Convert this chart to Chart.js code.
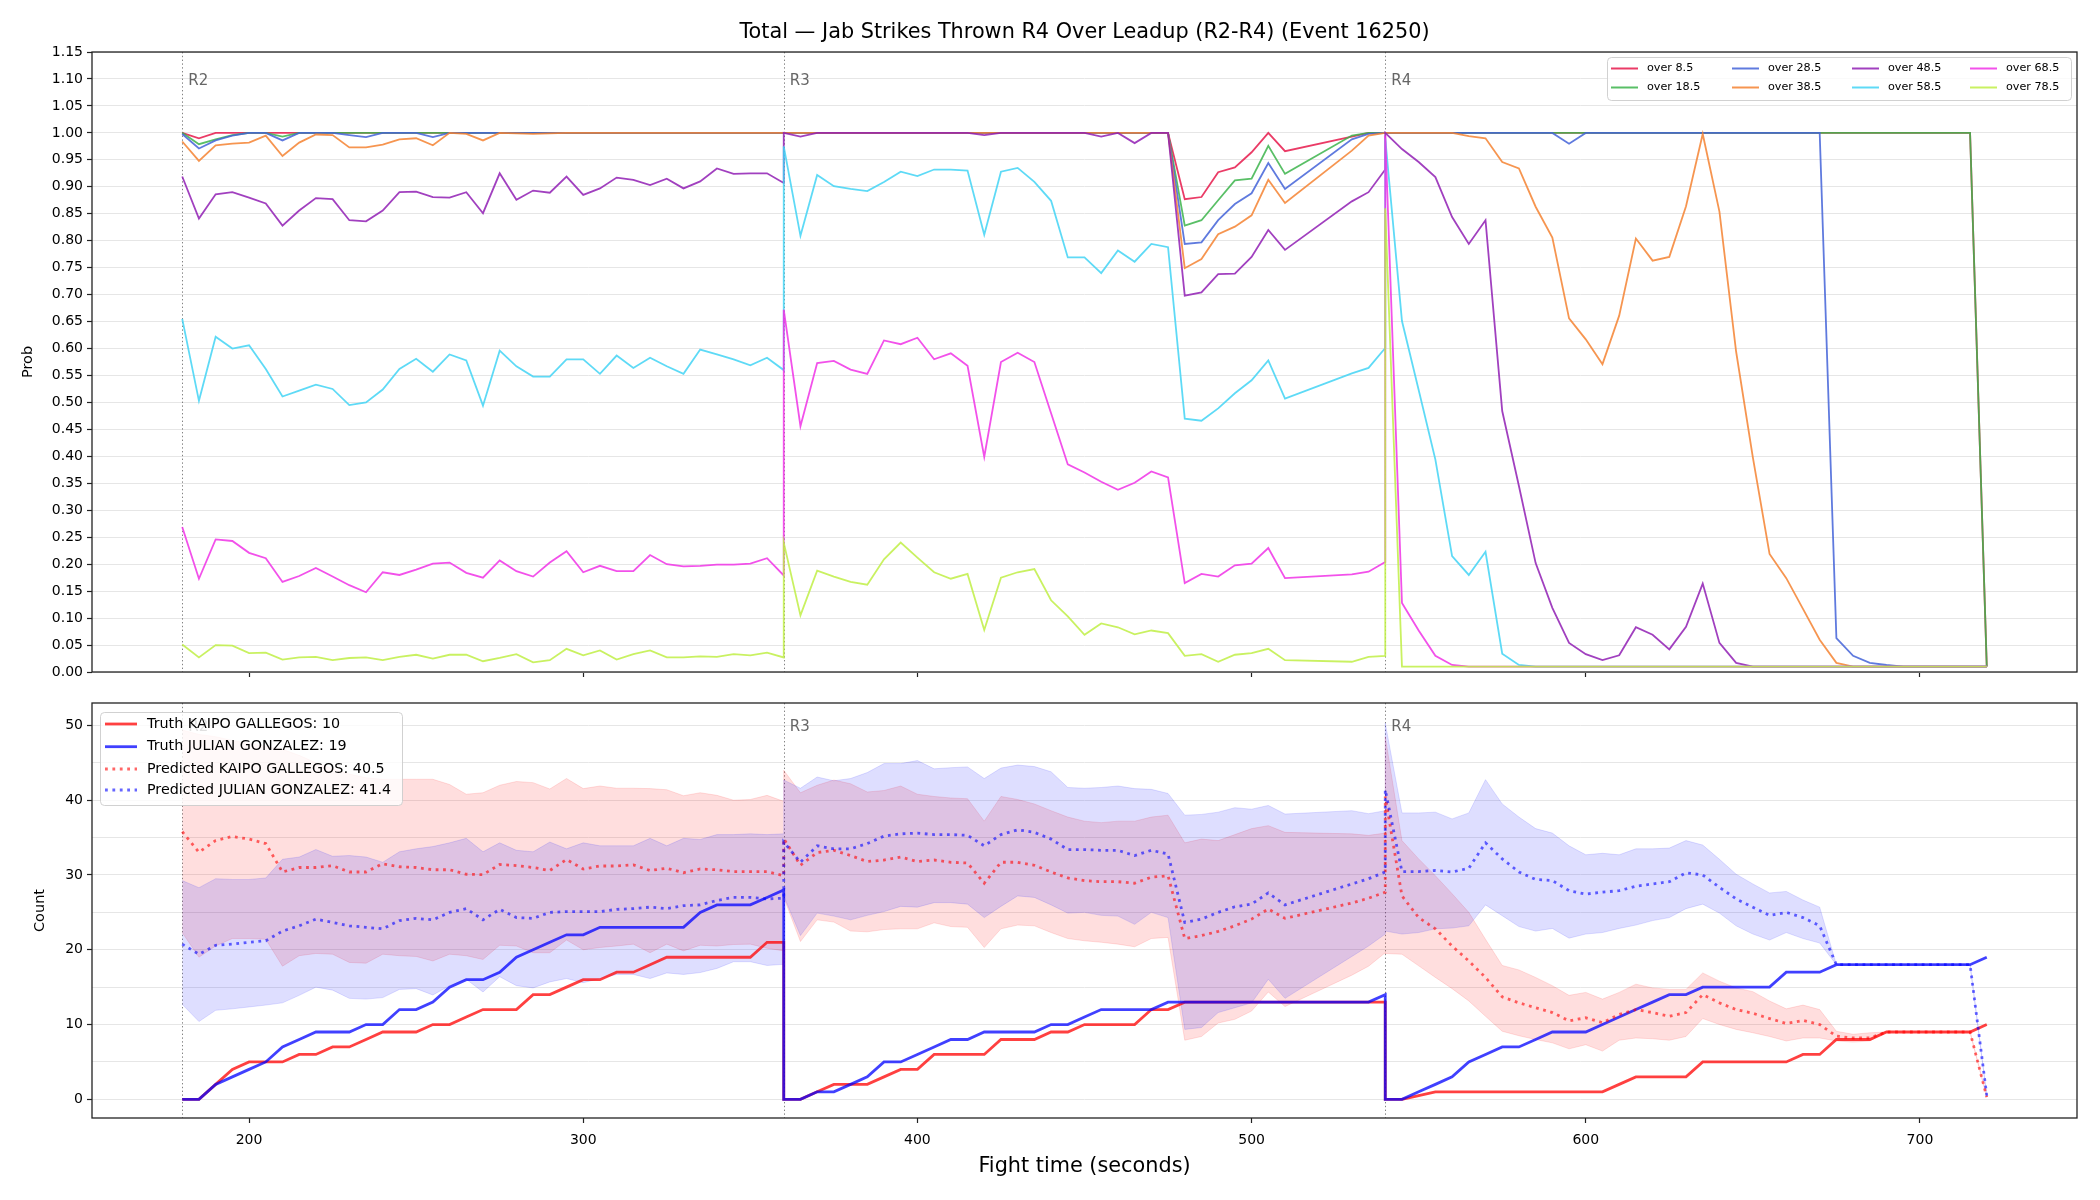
<!DOCTYPE html>
<html><head><meta charset="utf-8">
<script src="https://cdn.jsdelivr.net/npm/chart.js@4.4.0/dist/chart.umd.min.js"></script>
<style>
html,body{margin:0;padding:0;background:#fff;}
#wrap{position:relative;width:2100px;height:1200px;overflow:hidden;background:#fff;}
canvas{position:absolute;left:0;}
#c1{top:0;} #c2{top:690px;}
</style></head><body>
<div id="wrap"><canvas id="c1" width="2100" height="690"></canvas><canvas id="c2" width="2100" height="510"></canvas></div>
<script>
// ---------------- DATA ----------------
const TITLE = 'Total \u2014 Jab Strikes Thrown R4 Over Leadup (R2-R4) (Event 16250)';
const ROUND_STARTS = [180, 360, 540];
const ROUND_LABELS = ['R2', 'R3', 'R4'];
const X_TICKS = [200, 300, 400, 500, 600, 700];
const Y_TOP_TICKS = [0,0.05,0.10,0.15,0.20,0.25,0.30,0.35,0.40,0.45,0.50,0.55,0.60,0.65,0.70,0.75,0.80,0.85,0.90,0.95,1.00,1.05,1.10,1.15];
const Y_BOT_TICKS = [0,5,10,15,20,25,30,35,40,45,50];

// fight time (seconds): R2, R3, R4
const T = [
 180,185,190,195,200,205,210,215,220,225,230,235,240,245,250,255,260,265,270,275,280,285,290,295,300,305,310,315,320,325,330,335,340,345,350,355,360,
 360,365,370,375,380,385,390,395,400,405,410,415,420,425,430,435,440,445,450,455,460,465,470,475,480,485,490,495,500,505,510,530,535,540,
 540,545,550,555,560,565,570,575,580,585,590,595,600,605,610,615,620,625,630,635,640,645,650,655,660,665,670,675,680,685,690,695,700,705,710,715,720
];

const LINE_NAMES = ['over 8.5','over 18.5','over 28.5','over 38.5','over 48.5','over 58.5','over 68.5','over 78.5'];

const P_OVER_8_5 = [
 1,0.99,1,1,1,1,1,1,1,1, 1,1,1,1,1,1,1,1,1,1, 1,1,1,1,1,1,1,1,1,1, 1,1,1,1,1,1,1,
 1,1,1,1,1,1,1,1,1,1, 1,1,1,1,1,1,1,1,1,1, 1,1,1,1,0.877,0.881,0.927,0.936,0.964,1, 0.966,0.993,1,1,
 1,1,1,1,1,1,1,1,1,1, 1,1,1,1,1,1,1,1,1,1, 1,1,1,1,1,1,1,1,1,1, 1,1,1,1,1,1,0.01
];
const P_OVER_18_5 = [
 1,0.979,0.988,0.996,1,1,0.993,1,1,1, 1,1,1,1,1,1,1,1,1,1, 1,1,1,1,1,1,1,1,1,1, 1,1,1,1,1,1,1,
 1,1,1,1,1,1,1,1,1,1, 1,1,1,1,1,1,1,1,1,1, 1,1,1,1,0.828,0.838,0.875,0.912,0.915,0.976, 0.924,0.995,1,1,
 1,1,1,1,1,1,1,1,1,1, 1,1,1,1,1,1,1,1,1,1, 1,1,1,1,1,1,1,1,1,1, 1,1,1,1,1,1,0.01
];
const P_OVER_28_5 = [
 0.998,0.971,0.986,0.995,1,1,0.986,1,1,1, 0.996,0.992,1,1,1,0.992,1,1,1,1, 1,1,1,1,1,1,1,1,1,1, 1,1,1,1,1,1,1,
 1,1,1,1,1,1,1,1,1,1, 1,1,1,1,1,1,1,1,1,1, 1,1,1,1,0.794,0.797,0.838,0.868,0.888,0.944, 0.896,0.988,0.998,1,
 1,1,1,1,1,1,1,1,1,1, 1,0.98,1,1,1,1,1,1,1,1, 1,1,1,1,1,1,1,0.063,0.030,0.017, 0.013,0.01,0.01,0.01,0.01,0.01,0.01
];
const P_OVER_38_5 = [
 0.984,0.948,0.977,0.98,0.982,0.995,0.957,0.982,0.997,0.996, 0.973,0.973,0.978,0.988,0.99,0.977,1,0.998,0.986,1, 0.999,0.998,0.999,1,1,1,1,1,1,1, 1,1,1,1,1,1,1,
 1,1,1,1,1,1,1,1,1,1, 1,1,1,1,1,1,1,1,1,1, 1,1,1,1,0.749,0.766,0.812,0.826,0.847,0.913, 0.870,0.967,0.995,1,
 1,1,1,1,1,0.994,0.990,0.946,0.934,0.863, 0.806,0.656,0.617,0.571,0.661,0.804,0.763,0.770,0.864,0.998, 0.854,0.594,0.398,0.219,0.174,0.117,0.060,0.017,0.01,0.01, 0.01,0.01,0.01,0.01,0.01,0.01,0.01
];
const P_OVER_48_5 = [
 0.919,0.841,0.886,0.890,0.880,0.869,0.828,0.856,0.879,0.877, 0.838,0.836,0.856,0.890,0.891,0.881,0.880,0.890,0.851,0.925, 0.876,0.893,0.889,0.919,0.885,0.897,0.917,0.913,0.903,0.915, 0.897,0.910,0.934,0.924,0.925,0.925,0.907,
 1,0.993,1,1,1,1,1,1,1,1, 1,1,0.996,1,1,1,1,1,1,0.993, 1,0.981,1,1,0.698,0.704,0.738,0.739,0.770,0.820, 0.783,0.873,0.890,0.932,
 1,0.970,0.946,0.918,0.844,0.794,0.838,0.484,0.345,0.202, 0.119,0.054,0.033,0.022,0.031,0.083,0.069,0.042,0.084,0.164, 0.054,0.017,0.01,0.01,0.01,0.01,0.01,0.01,0.01,0.01, 0.01,0.01,0.01,0.01,0.01,0.01,0.01
];
const P_OVER_58_5 = [
 0.655,0.503,0.622,0.600,0.606,0.562,0.511,0.522,0.533,0.525, 0.495,0.500,0.524,0.562,0.581,0.557,0.589,0.578,0.494,0.596, 0.567,0.548,0.548,0.580,0.580,0.553,0.587,0.564,0.583,0.567, 0.553,0.598,0.589,0.580,0.569,0.583,0.560,
 0.975,0.809,0.922,0.901,0.896,0.892,0.909,0.928,0.920,0.932, 0.932,0.930,0.811,0.928,0.935,0.909,0.874,0.769,0.769,0.740, 0.782,0.761,0.794,0.788,0.470,0.466,0.489,0.517,0.541,0.578, 0.507,0.554,0.564,0.601,
 0.99,0.651,0.523,0.394,0.215,0.180,0.223,0.034,0.013,0.01, 0.01,0.01,0.01,0.01,0.01,0.01,0.01,0.01,0.01,0.01, 0.01,0.01,0.01,0.01,0.01,0.01,0.01,0.01,0.01,0.01, 0.01,0.01,0.01,0.01,0.01,0.01,0.01
];
const P_OVER_68_5 = [
 0.269,0.173,0.246,0.243,0.221,0.211,0.167,0.178,0.193,0.177, 0.161,0.148,0.185,0.180,0.190,0.201,0.203,0.184,0.175,0.207, 0.187,0.177,0.203,0.224,0.185,0.197,0.187,0.187,0.217,0.200, 0.196,0.197,0.199,0.199,0.201,0.211,0.179,
 0.672,0.456,0.573,0.577,0.561,0.553,0.615,0.608,0.620,0.580, 0.591,0.568,0.399,0.575,0.592,0.575,0.480,0.385,0.370,0.353, 0.338,0.351,0.372,0.361,0.165,0.182,0.177,0.198,0.201,0.230, 0.174,0.181,0.186,0.204,
 0.995,0.128,0.077,0.030,0.013,0.01,0.01,0.01,0.01,0.01, 0.01,0.01,0.01,0.01,0.01,0.01,0.01,0.01,0.01,0.01, 0.01,0.01,0.01,0.01,0.01,0.01,0.01,0.01,0.01,0.01, 0.01,0.01,0.01,0.01,0.01,0.01,0.01
];
const P_OVER_78_5 = [
 0.051,0.027,0.050,0.049,0.035,0.036,0.023,0.027,0.028,0.022, 0.026,0.027,0.022,0.028,0.032,0.025,0.032,0.032,0.020,0.026, 0.033,0.018,0.022,0.043,0.031,0.040,0.023,0.033,0.040,0.027, 0.027,0.029,0.028,0.033,0.031,0.036,0.027,
 0.240,0.105,0.188,0.177,0.167,0.162,0.209,0.240,0.212,0.185, 0.173,0.182,0.078,0.175,0.185,0.191,0.133,0.103,0.069,0.090, 0.083,0.070,0.077,0.072,0.030,0.033,0.019,0.032,0.035,0.043, 0.022,0.019,0.028,0.030,
 0.86,0.01,0.01,0.01,0.01,0.01,0.01,0.01,0.01,0.01, 0.01,0.01,0.01,0.01,0.01,0.01,0.01,0.01,0.01,0.01, 0.01,0.01,0.01,0.01,0.01,0.01,0.01,0.01,0.01,0.01, 0.01,0.01,0.01,0.01,0.01,0.01,0.01
];

// Bottom panel: counts
const LEGEND_BOTTOM = ['Truth KAIPO GALLEGOS: 10','Truth JULIAN GONZALEZ: 19','Predicted KAIPO GALLEGOS: 40.5','Predicted JULIAN GONZALEZ: 41.4'];
const TRUTH_KAIPO = [
 0,0,2,4,5,5,5,6,6,7,7,8,9,9,9,10,10,11,12,12,12,14,14,15,16,16,17,17,18,19,19,19,19,19,19,21,21,
 0,0,1,2,2,2,3,4,4,6,6,6,6,8,8,8,9,9,10,10,10,10,12,12,13,13,13,13,13,13,13,13,13,13,
 0,0,0.5,1,1,1,1,1,1,1,1,1,1,1,2,3,3,3,3,5,5,5,5,5,5,6,6,8,8,8,9,9,9,9,9,9,10
];
const TRUTH_JULIAN = [
 0,0,2,3,4,5,7,8,9,9,9,10,10,12,12,13,15,16,16,17,19,20,21,22,22,23,23,23,23,23,23,25,26,26,26,27,28,
 0,0,1,1,2,3,5,5,6,7,8,8,9,9,9,9,10,10,11,12,12,12,12,13,13,13,13,13,13,13,13,13,13,14,
 0,0,1,2,3,5,6,7,7,8,9,9,9,10,11,12,13,14,14,15,15,15,15,15,17,17,17,18,18,18,18,18,18,18,18,18,19
];
const PRED_KAIPO = [
 35.8,33.05,34.6,35.15,34.8,34.2,30.4,31.0,31.0,31.25,30.4,30.4,31.5,31.1,31.0,30.7,30.7,30.1,30.05,31.4,31.25,31.0,30.6,32.07,30.8,31.2,31.2,31.35,30.6,30.9,30.3,30.8,30.7,30.45,30.45,30.45,29.9,
 34.85,31.3,33.0,33.3,32.6,31.8,32.0,32.4,31.8,32.0,31.7,31.6,28.9,31.7,31.7,31.3,30.4,29.6,29.25,29.1,29.1,28.9,29.7,29.9,21.5,21.9,22.45,23.2,24.1,25.45,24.2,26.25,26.9,27.7,
 40.5,27.2,24.3,22.8,20.5,18.5,16.3,13.7,12.9,12.25,11.6,10.5,10.9,10.25,11.35,12.0,11.6,11.1,11.6,14.0,12.9,12.0,11.5,10.8,10.15,10.55,10.0,8.45,8.2,8.2,9.0,9.0,9.0,9.0,9.0,9.0,0.3
];
const PRED_JULIAN = [
 20.75,19.4,20.6,20.75,21.0,21.2,22.5,23.2,24.1,23.65,23.2,23.0,22.8,23.9,24.2,24.0,25.0,25.5,24.0,25.4,24.3,24.2,25.0,25.1,25.1,25.1,25.4,25.5,25.7,25.5,25.9,26.0,26.6,27.0,27.0,26.8,26.9,
 34.4,31.7,33.9,33.5,33.5,34.2,35.2,35.5,35.6,35.4,35.4,35.3,33.9,35.4,36.05,35.7,34.8,33.4,33.4,33.3,33.3,32.6,33.3,32.8,23.65,24.1,25.0,25.75,26.1,27.6,26.0,28.8,29.5,30.4,
 41.4,30.45,30.45,30.6,30.4,30.9,34.3,32.15,30.4,29.4,29.25,27.9,27.45,27.7,27.9,28.5,28.8,29.1,30.3,30.0,28.35,26.8,25.7,24.6,25.0,24.3,23.2,18,18,18,18,18,18,18,18,18,0.5
];
const BAND_KAIPO_HI = [
 49.4,48.8,48.5,48.0,47.6,47.2,46.8,46.0,45.0,44.2,43.5,43.0,42.8,42.8,42.8,42.8,42.1,40.8,41.0,42.0,42.5,42.35,41.5,42.9,41.55,41.9,41.6,41.6,41.55,41.4,40.6,41.0,40.65,40.0,40.1,40.65,39.85,
 44.0,41.0,42.0,42.7,42.2,41.1,41.3,41.9,40.8,40.5,40.3,40.2,37.2,40.5,40.1,39.5,38.6,37.75,37.2,37.0,37.2,37.2,37.75,38.0,34.3,34.8,34.6,35.4,36.2,36.6,35.7,35.5,35.3,35.6,
 48.5,34.6,32.15,29.9,27.5,25.0,21.4,17.9,17.3,16.3,15.2,13.9,14.3,13.4,14.3,15.4,14.9,14.7,14.7,16.9,15.8,14.9,14.4,13.15,12.1,12.6,12.0,9.1,8.7,8.9,9,9,9,9,9,9,0.3
];
const BAND_KAIPO_LO = [
 22.3,19.0,20.5,21.5,21.5,21.4,17.8,19.2,19.5,19.4,18.3,18.2,19.4,19.2,19.1,18.5,19.4,19.2,18.7,20.6,20.5,19.6,19.6,21.3,20.0,20.3,20.5,20.75,19.6,20.75,19.85,20.6,20.5,20.7,20.75,20.2,19.85,
 27.0,21.1,24.0,23.7,22.5,22.4,22.7,22.8,22.8,23.6,23.1,23.0,20.3,22.8,23.3,23.2,22.3,21.5,21.2,21.0,20.75,20.4,21.5,21.65,7.9,8.4,10.2,10.7,11.8,14.35,12.4,16.6,17.8,19.6,
 19.5,19.4,17.85,16.3,14.8,13.15,11.1,9.1,8.5,8.0,7.55,6.75,7.3,6.45,7.9,8.2,8.1,7.9,8.4,10.8,10.0,9.35,8.9,8.4,7.8,8.2,8.2,7.8,7.65,7.8,9,9,9,9,9,9,0.3
];
const BAND_JULIAN_HI = [
 29.25,28.3,29.5,29.4,29.4,29.6,32.1,32.4,33.4,32.5,32.6,32.4,31.7,33.1,33.5,33.8,34.3,34.9,33.1,34.3,33.3,33.1,34.4,33.5,34.3,33.9,33.9,33.9,34.9,33.9,34.9,34.75,35.4,35.4,35.5,35.4,35.5,
 42.7,41.6,43.1,42.6,42.9,43.7,44.9,44.9,45.3,44.2,44.35,44.45,42.9,44.3,44.7,44.5,43.8,41.7,41.6,41.7,41.9,41.55,41.45,40.9,38.0,38.1,38.4,39.0,38.8,39.3,38.15,38.6,38.2,38.6,
 50.3,38.3,38.3,38.4,37.5,38.3,42.75,39.5,37.75,36.2,35.6,33.9,32.7,32.9,32.7,33.5,33.5,33.6,34.6,34.0,32.1,30.1,28.8,27.6,27.8,26.65,25.7,18,18,18,18,18,18,18,18,18,0.5
];
const BAND_JULIAN_LO = [
 12.7,10.4,11.9,12.1,12.35,12.6,12.9,13.9,15.0,14.6,13.5,13.4,13.6,14.7,14.8,13.95,15.2,16.05,14.35,16.4,15.2,14.9,15.7,16.15,15.6,16.15,16.7,16.7,16.15,16.9,16.7,16.95,17.5,18.4,18.4,17.9,18.05,
 27.2,21.9,24.9,24.5,24.0,24.6,25.1,25.8,25.7,26.3,26.3,26.1,24.3,25.8,27.2,27.0,26.0,24.9,25.0,24.6,24.5,23.4,25.0,24.3,9.35,9.6,11.6,12.25,12.9,16.05,13.5,19.1,20.5,22.1,
 22.5,22.1,22.3,22.8,22.9,23.2,26.0,24.55,23.1,22.5,22.85,21.55,22.1,22.3,22.85,23.3,23.9,24.3,25.5,26.1,24.9,23.2,22.1,21.3,22.3,21.5,20.9,18,18,18,18,18,18,18,18,18,0.5
];

// ---------------- STYLE / LAYOUT ----------------
const FONT = "'DejaVu Sans', 'Liberation Sans', Arial, sans-serif";
Chart.defaults.font.family = FONT;
Chart.defaults.color = '#000';
const LINE_COLORS = ['#e6194B','#3cb44b','#4363d8','#f58231','#911eb4','#42d4f4','#f032e6','#bfef45'];
const X_MIN = 153, X_MAX = 747;
const AXIS_LEFT = 92, PAD_RIGHT = 23;
const PRED_DASH = [2.8, 4.6];

function rgba(hex, a){ const n = parseInt(hex.slice(1),16); return 'rgba('+((n>>16)&255)+','+((n>>8)&255)+','+(n&255)+','+a+')'; }
function pts(ys){ return T.map((t,i)=>({x:t, y:ys[i]})); }

function xScale(showLabels, h){
  return {
    type:'linear', min:X_MIN, max:X_MAX,
    afterBuildTicks: s => { s.ticks = X_TICKS.map(v=>({value:v})); },
    afterFit: s => { s.height = h; },
    grid:{ drawOnChartArea:false, drawTicks:true, tickLength:5, tickColor:'#222', tickWidth:1.2 },
    border:{ display:false },
    ticks:{ autoSkip:false, maxRotation:0, padding:9, font:{size:14}, color:'#000',
            callback: v => showLabels ? String(v) : '' }
  };
}

function drawRounds(chart){
  const {ctx, chartArea:a, scales:{x}} = chart;
  ctx.save();
  ctx.strokeStyle = 'rgba(100,100,100,0.8)'; ctx.lineWidth = 1; ctx.setLineDash([1.4,2.4]);
  ROUND_STARTS.forEach(t => { const px = Math.round(x.getPixelForValue(t)) + 0.5;
    ctx.beginPath(); ctx.moveTo(px, a.top); ctx.lineTo(px, a.bottom); ctx.stroke(); });
  ctx.restore();
}
function drawRoundLabels(chart, dy){
  const {ctx, chartArea:a, scales:{x}} = chart;
  ctx.save();
  ctx.font = '15px ' + FONT; ctx.fillStyle = 'rgba(85,85,85,0.9)';
  ctx.textAlign = 'left'; ctx.textBaseline = 'middle';
  ROUND_STARTS.forEach((t,i) => ctx.fillText(ROUND_LABELS[i], x.getPixelForValue(t) + 6, a.top + dy));
  ctx.restore();
}
function drawFrame(chart){
  const {ctx, chartArea:a} = chart;
  ctx.save(); ctx.strokeStyle = '#222'; ctx.lineWidth = 1.3;
  ctx.strokeRect(a.left, a.top, a.right - a.left, a.bottom - a.top); ctx.restore();
}
function legendBox(ctx, x, y, w, h){
  ctx.save();
  ctx.beginPath(); ctx.roundRect(x + 0.5, y + 0.5, w, h, 4);
  ctx.fillStyle = 'rgba(255,255,255,0.8)'; ctx.fill();
  ctx.strokeStyle = 'rgba(204,204,204,0.9)'; ctx.lineWidth = 1; ctx.stroke();
  ctx.restore();
}
function rotText(ctx, text, x, y, size){
  ctx.save(); ctx.translate(x, y); ctx.rotate(-Math.PI/2);
  ctx.font = size + 'px ' + FONT; ctx.fillStyle = '#000'; ctx.textAlign = 'center'; ctx.textBaseline = 'middle';
  ctx.fillText(text, 0, 0); ctx.restore();
}

// ---------------- TOP CHART ----------------
const topSeries = [P_OVER_8_5, P_OVER_18_5, P_OVER_28_5, P_OVER_38_5, P_OVER_48_5, P_OVER_58_5, P_OVER_68_5, P_OVER_78_5];
const topDatasets = topSeries.map((s,i) => ({
  label: LINE_NAMES[i], data: pts(s), borderColor: rgba(LINE_COLORS[i], 0.85), borderWidth: 1.8,
  pointRadius: 0, tension: 0, fill: false, order: topSeries.length - 1 - i
}));

const topDecor = {
  id:'topDecor',
  beforeDatasetsDraw(chart){ drawRounds(chart); },
  afterDatasetsDraw(chart){
    const {ctx, chartArea:a} = chart;
    drawRoundLabels(chart, 29);
    drawFrame(chart);
    // title
    ctx.save(); ctx.font = '20.8px ' + FONT; ctx.fillStyle = '#000'; ctx.textAlign = 'center'; ctx.textBaseline = 'middle';
    ctx.fillText(TITLE, (a.left + a.right)/2, 33); ctx.restore();
    rotText(ctx, 'Prob', 28, (a.top + a.bottom)/2, 14.5);
    // legend: 4 columns x 2 rows, column-major order
    legendBox(ctx, 1607, 57, 464, 43);
    const colX = [1611, 1732, 1852, 1970], rowY = [68.5, 87.5];
    ctx.save(); ctx.font = '11.2px ' + FONT; ctx.textBaseline = 'middle'; ctx.textAlign = 'left';
    LINE_NAMES.forEach((name, i) => {
      const c = Math.floor(i/2), r = i % 2;
      ctx.strokeStyle = rgba(LINE_COLORS[i], 0.85); ctx.lineWidth = 2;
      ctx.beginPath(); ctx.moveTo(colX[c], rowY[r]); ctx.lineTo(colX[c] + 27, rowY[r]); ctx.stroke();
      ctx.fillStyle = '#000'; ctx.fillText(name, colX[c] + 36, rowY[r]);
    });
    ctx.restore();
  }
};

new Chart(document.getElementById('c1'), {
  type:'line',
  data:{ datasets: topDatasets },
  options:{
    responsive:false, animation:false, devicePixelRatio:1, events:[],
    layout:{ padding:{ left:0, right:PAD_RIGHT, top:52, bottom:0 } },
    plugins:{ legend:{display:false}, tooltip:{enabled:false}, title:{display:false} },
    scales:{
      x: xScale(false, 18),
      y: { type:'linear', min:0, max:1.15,
        afterBuildTicks: s => { s.ticks = Y_TOP_TICKS.map(v=>({value:v})); },
        afterFit: s => { s.width = AXIS_LEFT; },
        grid:{ color:'#e6e6e6', lineWidth:1, tickLength:5, tickColor:'#222', tickWidth:1.2 },
        border:{ display:false },
        ticks:{ autoSkip:false, padding:4, font:{size:14}, color:'#000', callback: v => Number(v).toFixed(2) }
      }
    }
  },
  plugins:[topDecor]
});

// ---------------- BOTTOM CHART ----------------
const RED = '#ff0000', BLUE = '#0000ff';
const botDatasets = [
  { data: pts(BAND_KAIPO_HI), borderColor: rgba(RED,0.12), backgroundColor: rgba(RED,0.13), borderWidth:1, fill:1 },
  { data: pts(BAND_KAIPO_LO), borderColor: rgba(RED,0.12), borderWidth:1, fill:false },
  { data: pts(BAND_JULIAN_HI), borderColor: rgba(BLUE,0.12), backgroundColor: rgba(BLUE,0.13), borderWidth:1, fill:3 },
  { data: pts(BAND_JULIAN_LO), borderColor: rgba(BLUE,0.12), borderWidth:1, fill:false },
  { data: pts(TRUTH_KAIPO), borderColor: rgba(RED,0.75), borderWidth:2.8, fill:false },
  { data: pts(TRUTH_JULIAN), borderColor: rgba(BLUE,0.75), borderWidth:2.8, fill:false },
  { data: pts(PRED_KAIPO), borderColor: rgba(RED,0.6), borderWidth:2.8, borderDash: PRED_DASH, fill:false },
  { data: pts(PRED_JULIAN), borderColor: rgba(BLUE,0.6), borderWidth:2.8, borderDash: PRED_DASH, fill:false }
].map((d,i,arr) => Object.assign(d, { pointRadius:0, tension:0, order: arr.length - 1 - i }));

const botDecor = {
  id:'botDecor',
  beforeDatasetsDraw(chart){ drawRounds(chart); },
  afterDatasetsDraw(chart){
    const {ctx, chartArea:a} = chart;
    drawRoundLabels(chart, 24);
    drawFrame(chart);
    rotText(ctx, 'Count', 40, (a.top + a.bottom)/2, 14.5);
    ctx.save(); ctx.font = '20.8px ' + FONT; ctx.fillStyle = '#000'; ctx.textAlign = 'center'; ctx.textBaseline = 'middle';
    ctx.fillText('Fight time (seconds)', (a.left + a.right)/2, 477); ctx.restore();
    // legend
    legendBox(ctx, 100, 22, 302, 93);
    const rowY = [34, 56.7, 79, 100];
    const styles = [[rgba(RED,0.75), null], [rgba(BLUE,0.75), null], [rgba(RED,0.6), PRED_DASH], [rgba(BLUE,0.6), PRED_DASH]];
    ctx.save(); ctx.font = '14.3px ' + FONT; ctx.textBaseline = 'middle'; ctx.textAlign = 'left';
    LEGEND_BOTTOM.forEach((txt, i) => {
      ctx.strokeStyle = styles[i][0]; ctx.lineWidth = 2.8; ctx.setLineDash(styles[i][1] || []);
      ctx.beginPath(); ctx.moveTo(105, rowY[i]); ctx.lineTo(137, rowY[i]); ctx.stroke();
      ctx.setLineDash([]); ctx.fillStyle = '#000'; ctx.fillText(txt, 147, rowY[i]);
    });
    ctx.restore();
  }
};

new Chart(document.getElementById('c2'), {
  type:'line',
  data:{ datasets: botDatasets },
  options:{
    responsive:false, animation:false, devicePixelRatio:1, events:[],
    layout:{ padding:{ left:0, right:PAD_RIGHT, top:13, bottom:0 } },
    plugins:{ legend:{display:false}, tooltip:{enabled:false}, title:{display:false} },
    scales:{
      x: xScale(true, 82),
      y: { type:'linear', min:-2.5, max:53,
        afterBuildTicks: s => { s.ticks = Y_BOT_TICKS.map(v=>({value:v})); },
        afterFit: s => { s.width = AXIS_LEFT; },
        grid:{ color:'#e6e6e6', lineWidth:1, tickLength:5, tickWidth:1.2,
               tickColor: c => (c.tick && c.tick.value % 10 === 0) ? '#222' : 'rgba(0,0,0,0)' },
        border:{ display:false },
        ticks:{ autoSkip:false, padding:4, font:{size:14}, color:'#000',
                callback: v => (v % 10 === 0) ? String(v) : '' }
      }
    }
  },
  plugins:[botDecor]
});
</script>
</body></html>
